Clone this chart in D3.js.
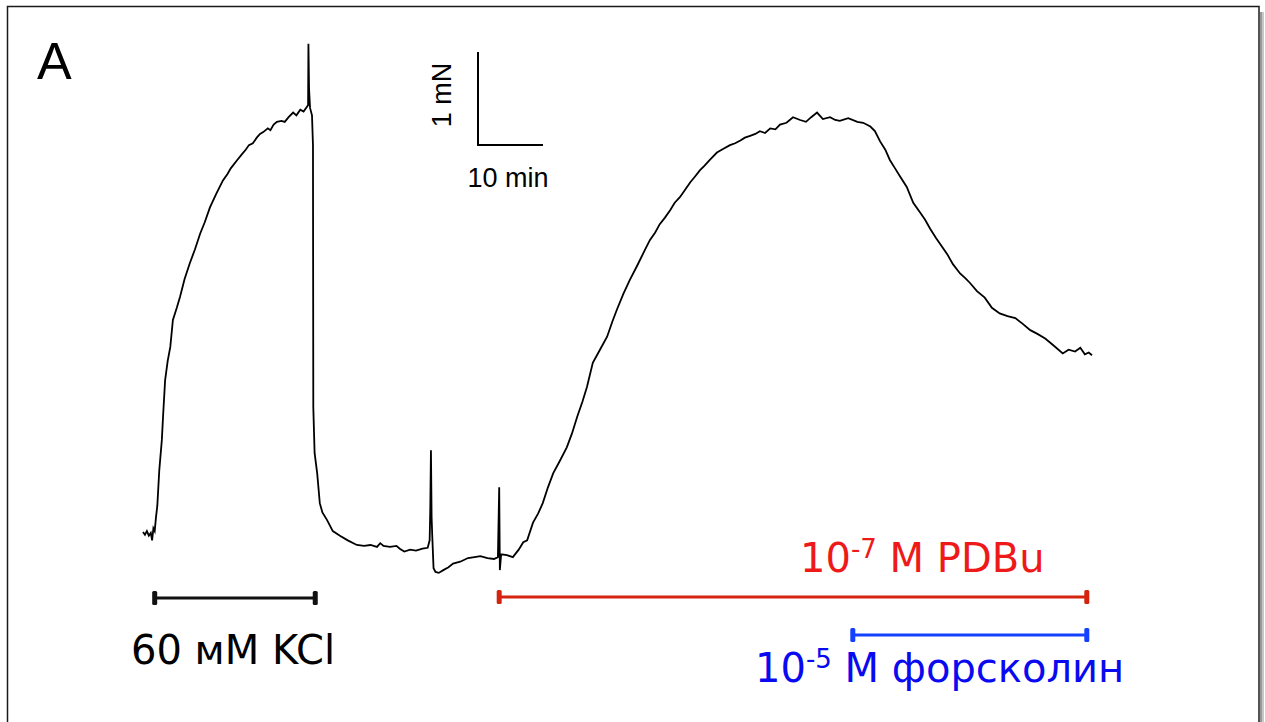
<!DOCTYPE html>
<html>
<head>
<meta charset="utf-8">
<script src="https://cdn.jsdelivr.net/npm/d3@7"></script>
<style>
  html, body { margin: 0; padding: 0; background: #fff; }
  svg { display: block; }
</style>
</head>
<body>
<svg id="chart" width="1265" height="722"></svg>
<script>
// Trace: [time (min), force (mN)]
const trace = [
  [0,0.14],[0.3,0.11],[0.6,0.15],[0.9,0.10],[1.2,0.13],[1.4,0.05],[1.6,0.18],[1.8,0.15],
  [2.0,0.30],[2.2,0.42],[2.5,0.80],[2.9,1.13],[3.1,1.40],[3.4,1.77],[3.8,1.98],[4.2,2.13],
  [4.6,2.42],[5.2,2.55],[5.7,2.67],[6.4,2.86],[7.2,3.03],[8.0,3.18],[8.8,3.35],[9.5,3.47],
  [10.3,3.63],[11.3,3.78],[12.3,3.92],[13.0,3.99],[13.5,4.05],[14.5,4.14],[15.2,4.20],
  [15.8,4.25],[16.3,4.30],[16.9,4.32],[17.5,4.38],[18.0,4.42],[18.5,4.44],[19.2,4.48],
  [19.6,4.46],[20.1,4.52],[20.6,4.55],[21.3,4.56],[21.8,4.55],[22.4,4.60],[23.1,4.65],
  [23.6,4.62],[24.2,4.68],[24.7,4.66],[25.2,4.71],[25.4,4.73],[25.45,5.39],[25.55,4.90],
  [25.7,4.70],[26.0,4.62],[26.15,4.30],[26.2,1.48],[26.4,0.99],[26.8,0.77],[27.2,0.45],
  [27.6,0.35],[28.3,0.27],[29.2,0.15],[30.3,0.10],[31.5,0.05],[32.9,0.00],[34.0,-0.01],
  [35.0,0.00],[36.0,-0.02],[36.5,0.02],[37.0,-0.01],[38.0,-0.02],[39.0,-0.01],[39.5,-0.04],
  [40.2,-0.07],[41.1,-0.05],[42.0,-0.06],[43.0,-0.04],[43.8,-0.03],[44.1,0.05],[44.2,0.40],
  [44.3,1.02],[44.4,0.30],[44.5,0.10],[44.7,-0.25],[45.0,-0.29],[45.5,-0.30],[46.2,-0.27],
  [47.0,-0.24],[47.7,-0.20],[48.8,-0.18],[50.0,-0.14],[51.0,-0.13],[51.9,-0.12],[53.0,-0.14],
  [54.0,-0.15],[54.6,-0.13],[54.8,0.62],[54.9,-0.27],[55.1,-0.10],[56.0,-0.11],[56.9,-0.13],
  [57.8,-0.05],[58.5,0.03],[59.1,0.05],[60.0,0.24],[60.8,0.34],[61.5,0.45],[62.3,0.62],
  [63.1,0.77],[64.1,0.90],[65.2,1.05],[66.0,1.20],[66.8,1.38],[67.6,1.54],[68.3,1.70],
  [69.2,1.96],[70.3,2.10],[71.4,2.24],[72.2,2.40],[72.9,2.53],[73.9,2.70],[74.9,2.85],
  [76.0,3.00],[77.2,3.17],[78.0,3.28],[78.8,3.36],[79.5,3.45],[80.3,3.52],[81.1,3.60],
  [81.8,3.68],[82.6,3.74],[83.4,3.82],[84.2,3.90],[84.9,3.96],[85.7,4.03],[86.4,4.08],
  [87.2,4.14],[88.3,4.22],[89.3,4.26],[90.3,4.30],[91.1,4.32],[91.9,4.35],[92.6,4.38],
  [93.4,4.40],[94.2,4.42],[94.9,4.45],[95.7,4.43],[96.5,4.48],[97.3,4.47],[98.0,4.52],
  [99.0,4.54],[100.0,4.60],[101.1,4.57],[102.0,4.55],[102.8,4.60],[103.7,4.65],[104.6,4.58],
  [105.7,4.60],[106.5,4.57],[107.2,4.56],[108.5,4.59],[109.9,4.55],[110.8,4.54],[111.9,4.50],
  [112.6,4.45],[113.4,4.34],[114.2,4.25],[114.9,4.14],[115.7,4.05],[116.5,3.96],[117.5,3.85],
  [118.5,3.68],[119.5,3.58],[120.3,3.50],[121.1,3.40],[122.0,3.30],[122.8,3.22],[123.7,3.13],
  [124.6,3.02],[125.7,2.92],[126.5,2.87],[127.2,2.82],[128.3,2.73],[129.5,2.66],[130.6,2.55],
  [131.8,2.49],[133.0,2.46],[134.2,2.44],[135.3,2.38],[136.5,2.31],[137.6,2.27],[138.8,2.22],
  [140.0,2.15],[141.5,2.06],[142.4,2.10],[143.4,2.08],[144.2,2.12],[144.9,2.05],[145.5,2.07],
  [146.0,2.04]
];

// Treatment bars: start/end time (min)
const treatments = ["60 мМ KCl", "PDBu", "форсколин"];
const treatStart = [1.8, 54.8, 109.2];
const treatEnd = [26.5, 145.2, 145.2];

// Scale bar values
const scaleBarForce = 1;   // mN
const scaleBarTime = 10;   // min

const svg = d3.select("#chart");

// Frame with right shadow
svg.append("rect").attr("x", 1260).attr("y", 12).attr("width", 4).attr("height", 720)
  .attr("fill", "#c8c8c8");
svg.append("rect").attr("x", 1260).attr("y", 12).attr("width", 2).attr("height", 720)
  .attr("fill", "#999");
svg.append("rect").attr("x", 7.5).attr("y", 6.5).attr("width", 1251.5).attr("height", 730)
  .attr("fill", "#fff").attr("stroke", "#1a1a1a").attr("stroke-width", 1.5);

const x = d3.scaleLinear().domain([0, 146]).range([143, 1092]);
const y = d3.scaleLinear().domain([0, 5]).range([545, 80]);

const line = d3.line().x(d => x(d[0])).y(d => y(d[1]));
svg.append("path").datum(trace).attr("d", line)
  .attr("fill", "none").attr("stroke", "#000").attr("stroke-width", 1.8)
  .attr("stroke-linejoin", "miter");

// Panel letter
svg.append("text").attr("x", 37).attr("y", 79)
  .attr("font-family", "Liberation Sans, Arial, sans-serif").attr("font-size", 52)
  .attr("fill", "#000").text("A");

// Scale bar
const sbX0 = 478, sbY0 = 145;
svg.append("path")
  .attr("d", `M${sbX0},${sbY0 - (y(0) - y(scaleBarForce))}V${sbY0}H${sbX0 + (x(scaleBarTime) - x(0))}`)
  .attr("fill", "none").attr("stroke", "#000").attr("stroke-width", 2);
svg.append("text").attr("transform", "translate(451,95) rotate(-90)")
  .attr("text-anchor", "middle")
  .attr("font-family", "Liberation Sans, Arial, sans-serif").attr("font-size", 27)
  .text(scaleBarForce + " mN");
svg.append("text").attr("x", 508).attr("y", 187).attr("text-anchor", "middle")
  .attr("font-family", "Liberation Sans, Arial, sans-serif").attr("font-size", 27)
  .text(scaleBarTime + " min");

// Treatment bars
const barY = [598, 597, 635];
const barColors = ["#111", "#d42410", "#1440ff"];
treatments.forEach((t, i) => {
  const g = svg.append("g");
  g.append("line").attr("x1", x(treatStart[i])).attr("x2", x(treatEnd[i]))
    .attr("y1", barY[i]).attr("y2", barY[i])
    .attr("stroke", barColors[i]).attr("stroke-width", 3.2);
  [treatStart[i], treatEnd[i]].forEach(v => {
    g.append("rect").attr("x", x(v) - 2.5).attr("y", barY[i] - 7)
      .attr("width", 5).attr("height", 14).attr("rx", 1.5)
      .attr("fill", barColors[i]);
  });
});

const font = "DejaVu Sans, Verdana, sans-serif";
svg.append("text").attr("x", 131).attr("y", 664)
  .attr("font-family", font).attr("font-size", 40).attr("fill", "#000")
  .text("60 мМ KCl");

const red = svg.append("text").attr("x", 800).attr("y", 572)
  .attr("font-family", font).attr("font-size", 40).attr("fill", "#ee1a1a");
red.append("tspan").text("10");
red.append("tspan").attr("font-size", 26).attr("dy", -14).text("-7");
red.append("tspan").attr("dy", 14).text(" М PDBu");

const blue = svg.append("text").attr("x", 755).attr("y", 682)
  .attr("font-family", font).attr("font-size", 40).attr("fill", "#0a0af0");
blue.append("tspan").text("10");
blue.append("tspan").attr("font-size", 26).attr("dy", -14).text("-5");
blue.append("tspan").attr("dy", 14).text(" М форсколин");
</script>
</body>
</html>
